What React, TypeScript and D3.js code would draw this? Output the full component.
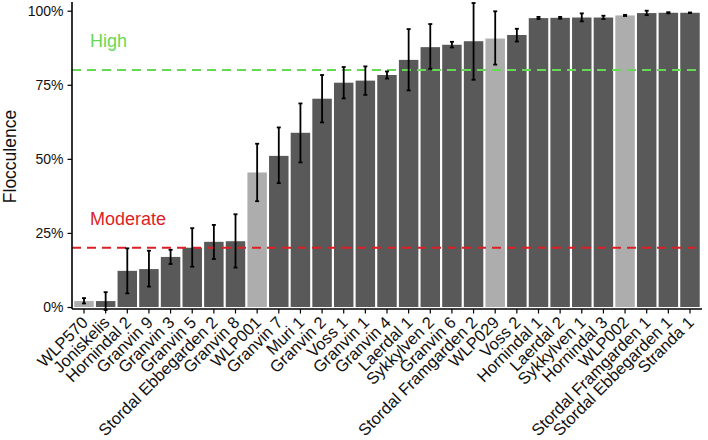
import React, { useEffect, useRef } from "react";
import * as d3 from "d3";

const strains = [
  "WLP570", "Joniskelis", "Hornindal 2", "Granvin 9", "Granvin 3", "Granvin 5",
  "Stordal Ebbegarden 2", "Granvin 8", "WLP001", "Granvin 7", "Muri 1", "Granvin 2",
  "Voss 1", "Granvin 1", "Granvin 4", "Laerdal 1", "Sykkylven 2", "Granvin 6",
  "Stordal Framgarden 2", "WLP029", "Voss 2", "Hornindal 1", "Laerdal 2", "Sykkylven 1",
  "Hornindal 3", "WLP002", "Stordal Framgarden 1", "Stordal Ebbegarden 1", "Stranda 1",
];

const flocculence = [
  0.02, 0.02, 0.122, 0.128, 0.169, 0.2, 0.22, 0.222, 0.454, 0.51, 0.588, 0.703,
  0.757, 0.764, 0.783, 0.834, 0.877, 0.885, 0.897, 0.906, 0.918, 0.975, 0.976, 0.977,
  0.977, 0.984, 0.992, 0.993, 0.993,
];

const errLow = [
  0.012, -0.01, 0.046, 0.069, 0.145, 0.136, 0.162, 0.133, 0.357, 0.418, 0.488, 0.623,
  0.704, 0.716, 0.771, 0.731, 0.804, 0.876, 0.767, 0.818, 0.896, 0.972, 0.973, 0.964,
  0.972, 0.982, 0.985, 0.991, 0.992,
];

const errHigh = [
  0.03, 0.05, 0.198, 0.19, 0.193, 0.266, 0.277, 0.313, 0.551, 0.606, 0.687, 0.783,
  0.81, 0.812, 0.795, 0.938, 0.955, 0.895, 1.026, 0.998, 0.939, 0.979, 0.979, 0.991,
  0.983, 0.986, 1.0, 0.995, 0.994,
];

// commercial reference strains drawn in light grey
const referenceStrains = ["WLP570", "WLP001", "WLP029", "WLP002"];

const yTicks = [0, 0.25, 0.5, 0.75, 1];

const thresholds = [
  { label: "High", value: 0.8, color: "#66d856" },
  { label: "Moderate", value: 0.2, color: "#dc1f26" },
];

export default function App() {
  const chartRef = useRef<SVGSVGElement>(null);

  useEffect(() => {
    if (!chartRef.current) return;
    const svg = d3.select(chartRef.current);
    svg.selectAll("*").remove();

    const font = "'Liberation Sans', Arial, Helvetica, sans-serif";
    const left = 72;
    const right = 702;
    const bottom = 309;

    const x = d3
      .scaleBand()
      .domain(strains)
      .range([left, right])
      .paddingInner(0.1)
      .paddingOuter(0.105);

    const y = d3.scaleLinear().domain([0, 1]).range([307, 10.7]);

    const rows = strains.map((s, i) => ({
      strain: s,
      value: flocculence[i],
      lo: errLow[i],
      hi: errHigh[i],
    }));

    // bars
    svg
      .append("g")
      .selectAll("rect")
      .data(rows)
      .join("rect")
      .attr("x", (d) => x(d.strain) ?? 0)
      .attr("y", (d) => y(d.value))
      .attr("width", x.bandwidth())
      .attr("height", (d) => y(0) - y(d.value))
      .attr("fill", (d) => (referenceStrains.includes(d.strain) ? "#adadad" : "#595959"));

    // threshold lines
    const th = svg.append("g");
    thresholds.forEach((t) => {
      th.append("line")
        .attr("x1", left)
        .attr("x2", right)
        .attr("y1", y(t.value))
        .attr("y2", y(t.value))
        .attr("stroke", t.color)
        .attr("stroke-width", 2)
        .attr("stroke-dasharray", "9,6");
      th.append("text")
        .attr("x", 90)
        .attr("y", y(t.value) - 23)
        .attr("fill", t.color)
        .attr("font-family", font)
        .attr("font-size", 18)
        .text(t.label);
    });

    // error bars
    const cx = (d: { strain: string }) => (x(d.strain) ?? 0) + x.bandwidth() / 2;
    const eb = svg
      .append("g")
      .attr("stroke", "#000")
      .attr("stroke-width", 1.8)
      .selectAll("g")
      .data(rows)
      .join("g");
    eb.append("line")
      .attr("x1", cx)
      .attr("x2", cx)
      .attr("y1", (d) => y(d.lo))
      .attr("y2", (d) => y(d.hi));
    eb.append("line")
      .attr("x1", (d) => cx(d) - 2)
      .attr("x2", (d) => cx(d) + 2)
      .attr("y1", (d) => y(d.lo))
      .attr("y2", (d) => y(d.lo));
    eb.append("line")
      .attr("x1", (d) => cx(d) - 2)
      .attr("x2", (d) => cx(d) + 2)
      .attr("y1", (d) => y(d.hi))
      .attr("y2", (d) => y(d.hi));

    // y axis
    const yAxis = svg
      .append("g")
      .attr("transform", `translate(${left},0)`)
      .call(
        d3
          .axisLeft(y)
          .tickValues(yTicks)
          .tickFormat(d3.format(".0%"))
          .tickSize(4.5)
          .tickPadding(4)
      );
    yAxis.select(".domain").attr("d", `M0,2V${bottom}`).attr("stroke-width", 1.6);
    yAxis.selectAll(".tick line").attr("stroke-width", 1.2);
    yAxis
      .selectAll(".tick text")
      .attr("font-family", font)
      .attr("font-size", 14)
      .attr("fill", "#111");

    // x axis, labels turned 45 degrees and right-aligned under their ticks
    const xAxis = svg
      .append("g")
      .attr("transform", `translate(0,${bottom})`)
      .call(d3.axisBottom(x).tickSize(4.5).tickSizeOuter(0));
    xAxis.select(".domain").attr("d", `M${left},0H${right}`).attr("stroke-width", 1.6);
    xAxis.selectAll(".tick line").attr("stroke-width", 1.2);
    xAxis
      .selectAll<SVGTextElement, string>(".tick text")
      .attr("font-family", font)
      .attr("font-size", 16.5)
      .attr("fill", "#111")
      .attr("text-anchor", "end")
      .attr("y", 0)
      .attr("dy", 0)
      .attr("transform", "translate(5,14.5) rotate(-45)");

    // y title
    svg
      .append("text")
      .attr("transform", `translate(16,156.5) rotate(-90)`)
      .attr("text-anchor", "middle")
      .attr("font-family", font)
      .attr("font-size", 17.5)
      .attr("fill", "#111")
      .text("Flocculence");
  }, []);

  return (
    <svg
      ref={chartRef}
      width={708}
      height={440}
      style={{ position: "absolute", left: 0, top: 0, background: "#fff" }}
    />
  );
}
